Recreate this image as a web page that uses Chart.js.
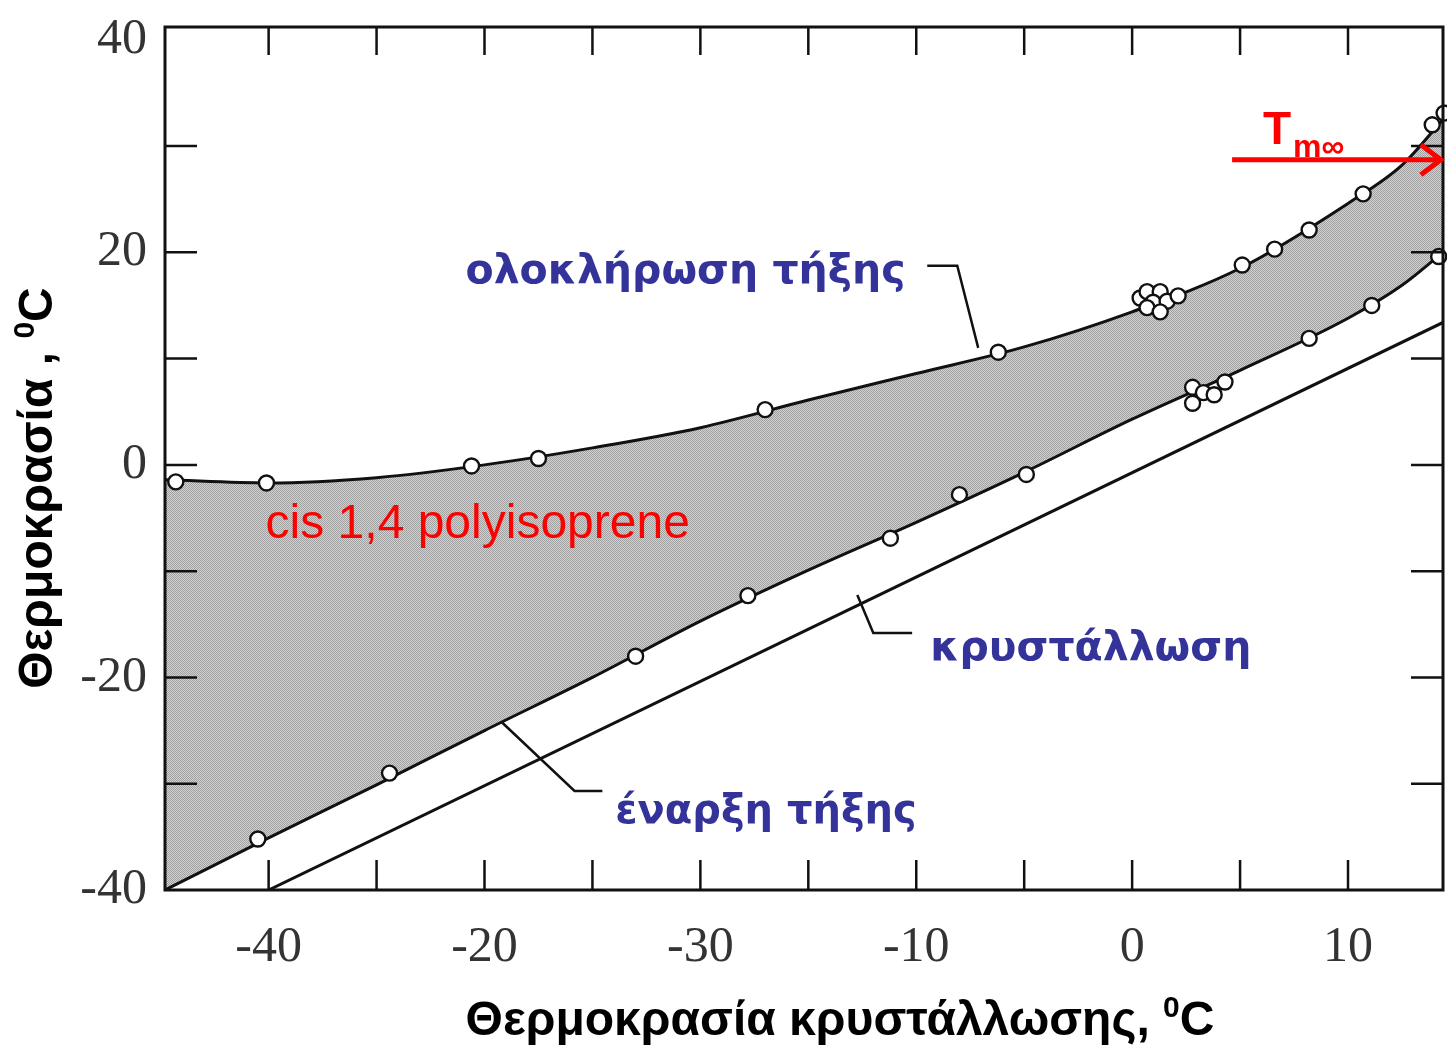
<!DOCTYPE html>
<html>
<head>
<meta charset="utf-8">
<script src="https://cdn.jsdelivr.net/npm/chart.js@4.4.0/dist/chart.umd.min.js"></script>
<style>
  html, body { margin: 0; padding: 0; background: #fff; }
</style>
</head>
<body>
<canvas id="myChart" width="1447" height="1046"></canvas>
<script>
// smooth curves, sampled along x (crystallization temperature)
var curveX     = [-44.8, -40, -35, -30, -25, -20, -15, -10, -5, 0, 5, 10, 12.5, 14.4];
var meltEndY   = [-1.4, -1.7, -1.2, 0.0, 1.6, 3.5, 6.1, 8.6, 11.1, 14.4, 18.5, 24.6, 28.2, 32.5];
var meltStartY = [-40.0, -35.1, -30.1, -25.0, -20.0, -14.7, -9.9, -5.4, -0.7, 4.3, 8.9, 13.8, 16.9, 20.0];

// Tm = Tc line
var crystX = [-40, 14.4];
var crystY = [-40, 13.4];

// measured points
var endPtsX = [-44.3, -40.1, -30.6, -27.5, -17.0, -6.2, 0.37, 0.69, 1.30, 0.97, 1.62, 0.69, 1.30, 2.13, 5.1, 6.6, 8.2, 10.7, 13.9, 14.45];
var endPtsY = [-1.6, -1.7, -0.1, 0.6, 5.2, 10.6, 15.7, 16.3, 16.3, 15.3, 15.4, 14.8, 14.4, 15.9, 18.8, 20.3, 22.1, 25.5, 32.0, 33.1];
var startPtsX = [-40.5, -34.4, -23.0, -17.8, -11.2, -8.0, -4.9, 2.8, 2.8, 3.3, 3.8, 4.3, 8.2, 11.1, 14.2];
var startPtsY = [-35.2, -29.0, -18.0, -12.3, -6.9, -2.8, -0.9, 7.3, 5.8, 6.8, 6.6, 7.8, 11.9, 15.0, 19.6];

// axis ticks (labels as printed on the original)
var xTickValues = [-40, -30, -20, -10, 0, 10];
var xTickLabels = ['-40', '-20', '-30', '-10', '0', '10'];
var yTickValues = [-40, -20, 0, 20, 40];
var xMarks = [-40, -35, -30, -25, -20, -15, -10, -5, 0, 5, 10];
var yMarks = [-30, -20, -10, 0, 10, 20, 30];

var blue = '#333399';
var red = '#ff0000';

function toPts(xs, ys) {
  return xs.map(function (x, i) { return { x: x, y: ys[i] }; });
}

// stippled grey like the scanned figure
var canvas = document.getElementById('myChart');
var ctx = canvas.getContext('2d');
var pc = document.createElement('canvas');
pc.width = 2; pc.height = 2;
var pctx = pc.getContext('2d');
pctx.fillStyle = '#d2d2d2'; pctx.fillRect(0, 0, 2, 2);
pctx.fillStyle = '#a0a0a0'; pctx.fillRect(0, 0, 1, 1); pctx.fillRect(1, 1, 1, 1);
var stipple = ctx.createPattern(pc, 'repeat');

var decor = {
  id: 'decor',
  afterDraw: function (chart) {
    var c = chart.ctx;
    var a = chart.chartArea;
    var sx = chart.scales.x, sy = chart.scales.y;
    var X = function (v) { return sx.getPixelForValue(v); };
    var Y = function (v) { return sy.getPixelForValue(v); };
    c.save();
    c.strokeStyle = '#111';
    c.lineWidth = 3;
    c.strokeRect(a.left, a.top, a.right - a.left, a.bottom - a.top);
    // inward ticks
    c.lineWidth = 2.5;
    xMarks.forEach(function (v) {
      var p = X(v);
      c.beginPath();
      c.moveTo(p, a.bottom); c.lineTo(p, a.bottom - 30);
      c.moveTo(p, a.top); c.lineTo(p, a.top + 28);
      c.stroke();
    });
    yMarks.forEach(function (v) {
      var p = Y(v);
      c.beginPath();
      c.moveTo(a.left, p); c.lineTo(a.left + 32, p);
      c.moveTo(a.right, p); c.lineTo(a.right - 32, p);
      c.stroke();
    });

    // leader lines
    var leaders = [
      [[-9.49, 18.73], [-8.1, 18.73], [-7.13, 11.01]],
      [[-10.19, -15.81], [-11.99, -15.81], [-12.73, -12.24]],
      [[-24.54, -30.68], [-25.83, -30.68], [-29.21, -24.19]]
    ];
    c.lineWidth = 2.5;
    leaders.forEach(function (l) {
      c.beginPath();
      l.forEach(function (p, i) {
        if (i === 0) c.moveTo(X(p[0]), Y(p[1])); else c.lineTo(X(p[0]), Y(p[1]));
      });
      c.stroke();
    });

    // Tm arrow
    var ay = Y(28.7), ax1 = X(4.63), ax2 = X(14.3);
    c.strokeStyle = red;
    c.lineWidth = 5;
    c.beginPath();
    c.moveTo(ax1, ay); c.lineTo(ax2 - 3, ay);
    c.stroke();
    c.beginPath();
    c.moveTo(ax2 - 20, ay - 15); c.lineTo(ax2, ay); c.lineTo(ax2 - 20, ay + 15);
    c.stroke();

    // labels
    var notes = [
      { text: 'ολοκλήρωση τήξης', x: -30.88, y: 17.13, font: 'bold 41px "DejaVu Sans"', color: blue },
      { text: 'κρυστάλλωση', x: -9.35, y: -18.35, font: 'bold 41px "DejaVu Sans"', color: blue },
      { text: 'έναρξη τήξης', x: -23.94, y: -33.7, font: 'bold 40px "DejaVu Sans"', color: blue },
      { text: 'cis 1,4 polyisoprene', x: -40.14, y: -6.87, font: '48px "Liberation Sans"', color: red },
      { text: 'T', x: 6.06, y: 30.21, font: 'bold 46px "Liberation Sans"', color: red },
      { text: 'm\u221e', x: 7.45, y: 28.99, font: 'bold 32px "Liberation Sans"', color: red }
    ];
    c.textAlign = 'left';
    c.textBaseline = 'alphabetic';
    notes.forEach(function (n) {
      c.font = n.font;
      c.fillStyle = n.color;
      c.fillText(n.text, X(n.x), Y(n.y));
    });

    // axis titles with superscript 0
    c.fillStyle = '#000';
    function title(main, cx, base) {
      c.font = 'bold 48px "Liberation Sans"';
      var w1 = c.measureText(main).width;
      var w3 = c.measureText('C').width;
      c.font = 'bold 30px "Liberation Sans"';
      var w2 = c.measureText('0').width;
      var x0 = cx - (w1 + w2 + w3) / 2;
      c.font = 'bold 48px "Liberation Sans"';
      c.fillText(main, x0, base);
      c.fillText('C', x0 + w1 + w2, base);
      c.font = 'bold 30px "Liberation Sans"';
      c.fillText('0', x0 + w1, base - 18);
    }
    title('Θερμοκρασία κρυστάλλωσης, ', 840, 1035);
    c.save();
    c.translate(52, 488);
    c.rotate(-Math.PI / 2);
    title('Θερμοκρασία , ', 0, 0);
    c.restore();
    c.restore();
  }
};

var chart = new Chart(canvas, {
  type: 'scatter',
  data: {
    datasets: [
      {
        data: toPts(curveX, meltEndY), showLine: true, pointRadius: 0,
        borderColor: '#111', borderWidth: 3, cubicInterpolationMode: 'monotone',
        fill: '+1', backgroundColor: stipple, order: 3
      },
      {
        data: toPts(curveX, meltStartY), showLine: true, pointRadius: 0,
        borderColor: '#111', borderWidth: 3, cubicInterpolationMode: 'monotone',
        fill: false, order: 2
      },
      {
        data: toPts(crystX, crystY), showLine: true, pointRadius: 0,
        borderColor: '#111', borderWidth: 3, fill: false, order: 3
      },
      {
        data: toPts(endPtsX, endPtsY), showLine: false, pointRadius: 7.5,
        pointBorderWidth: 2.4, pointBackgroundColor: '#fff', pointBorderColor: '#111',
        order: 1, clip: false
      },
      {
        data: toPts(startPtsX, startPtsY), showLine: false, pointRadius: 7.5,
        pointBorderWidth: 2.4, pointBackgroundColor: '#fff', pointBorderColor: '#111',
        order: 1, clip: false
      }
    ]
  },
  options: {
    responsive: false,
    animation: false,
    layout: { autoPadding: false, padding: { top: 27, right: 4, left: 0, bottom: 0 } },
    plugins: { legend: { display: false }, tooltip: { enabled: false } },
    scales: {
      x: {
        type: 'linear', min: -44.8, max: 14.4,
        grid: { display: false, drawTicks: false },
        border: { display: false },
        afterBuildTicks: function (s) { s.ticks = xTickValues.map(function (v) { return { value: v }; }); },
        afterFit: function (s) { s.height = 156; s.paddingLeft = 0; s.paddingRight = 0; },
        ticks: {
          font: { family: 'Liberation Serif', size: 50 }, color: '#333', padding: 28,
          maxRotation: 0, autoSkip: false,
          callback: function (v, i) { return xTickLabels[i]; }
        }
      },
      y: {
        type: 'linear', min: -40, max: 41.2,
        grid: { display: false, drawTicks: false },
        border: { display: false },
        afterBuildTicks: function (s) { s.ticks = yTickValues.map(function (v) { return { value: v }; }); },
        afterFit: function (s) { s.width = 165; s.paddingTop = 0; s.paddingBottom = 0; },
        ticks: {
          font: { family: 'Liberation Serif', size: 50 }, color: '#333', padding: 18,
          callback: function (v) { return String(v); }
        }
      }
    }
  },
  plugins: [decor]
});
</script>
</body>
</html>
